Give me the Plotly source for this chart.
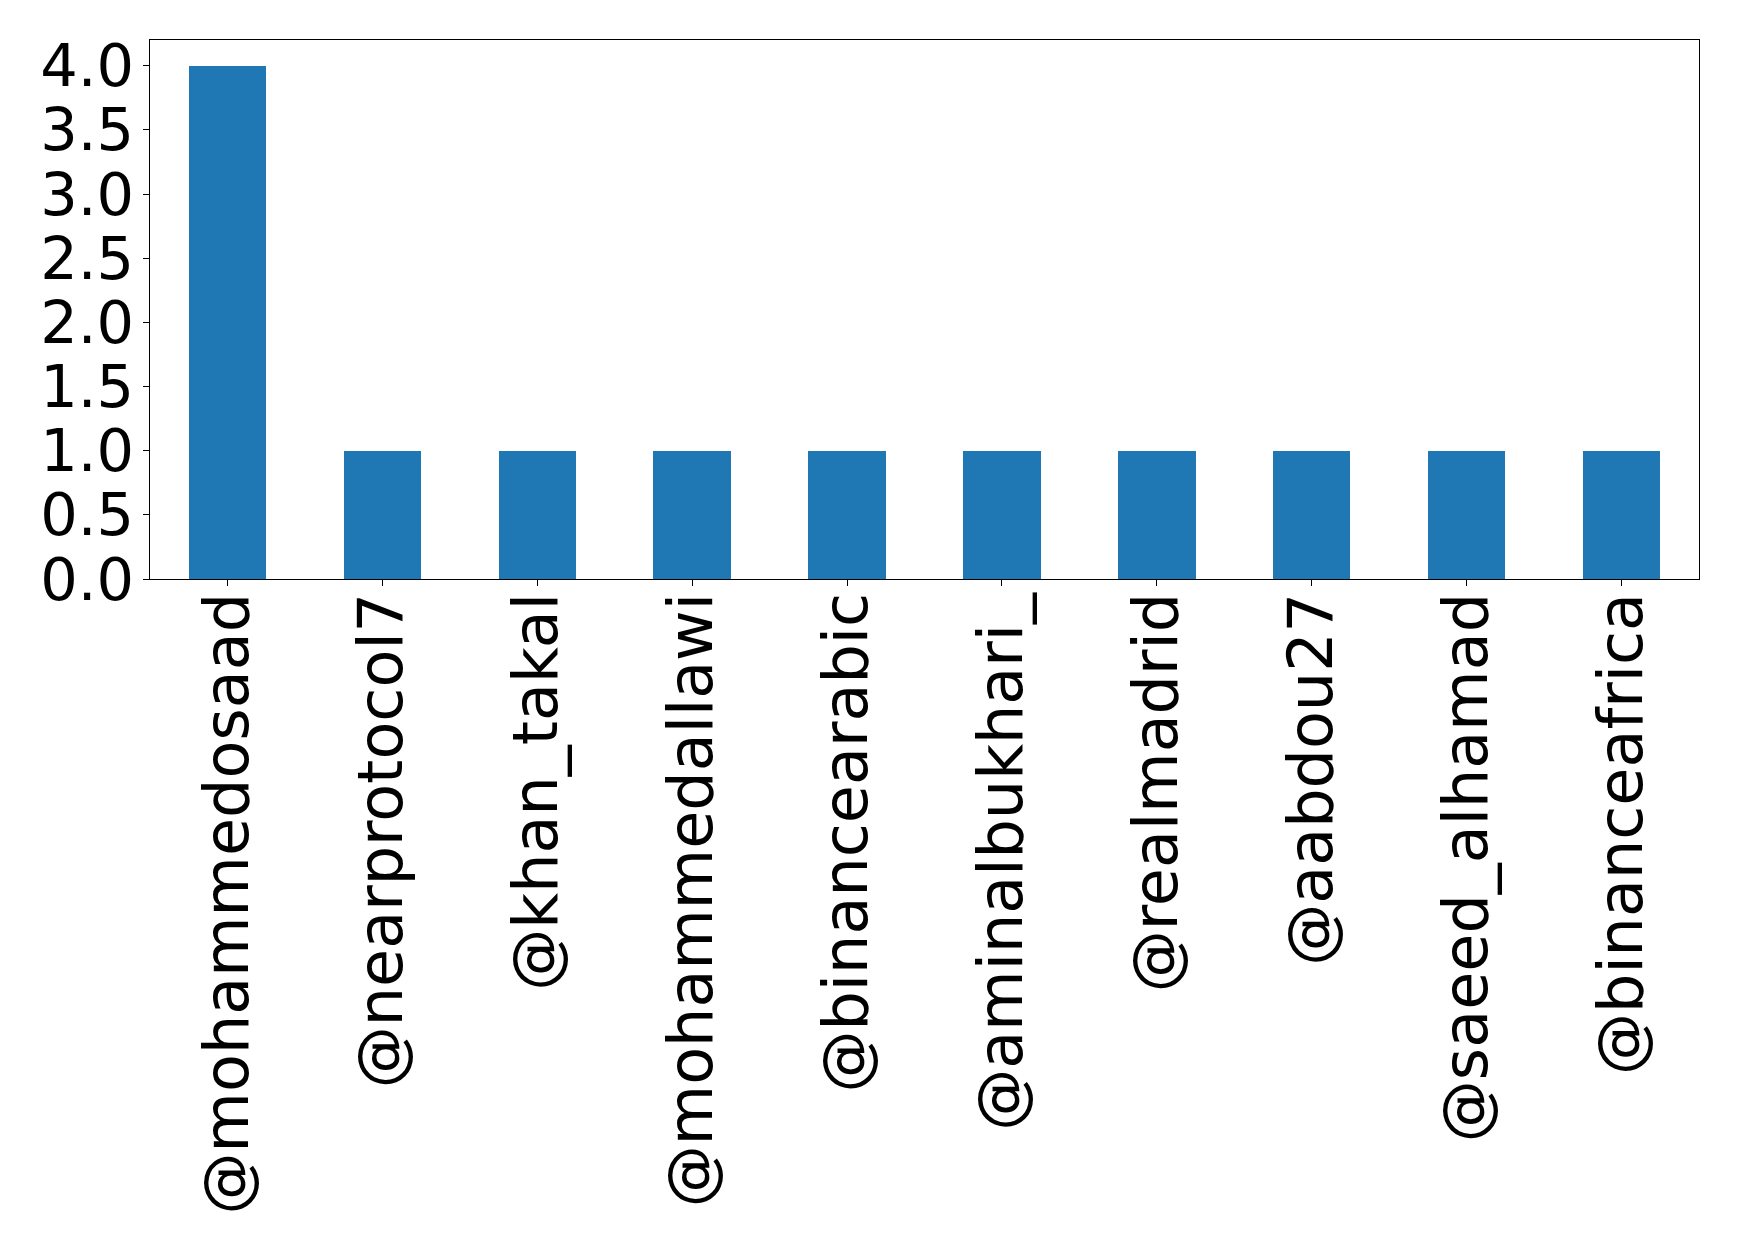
import plotly.graph_objects as go

# Mention counts per account
accounts = [
    "@mohammedosaad", "@nearprotocol7", "@khan_takal", "@mohammedallawi",
    "@binancearabic", "@aminalbukhari_", "@realmadrid", "@aabdou27",
    "@saeed_alhamad", "@binanceafrica",
]
counts = [4, 1, 1, 1, 1, 1, 1, 1, 1, 1]
y_ticks = [0.0, 0.5, 1.0, 1.5, 2.0, 2.5, 3.0, 3.5, 4.0]

fig = go.Figure(
    go.Bar(
        x=list(range(len(accounts))),
        y=counts,
        width=0.5,
        marker=dict(color="#1f77b4", line=dict(width=0)),
    )
)

axis_common = dict(
    showline=True,
    linecolor="black",
    linewidth=1.3,
    mirror=True,
    ticks="outside",
    tickcolor="black",
    tickwidth=1.2,
    ticklen=6,
    showgrid=False,
    zeroline=False,
)

fig.update_xaxes(
    range=[-0.5, len(accounts) - 0.5],
    tickmode="array",
    tickvals=list(range(len(accounts))),
    ticktext=accounts,
    tickangle=-90,
    ticklabelstandoff=-18,
    tickfont=dict(family="DejaVu Sans", size=62, color="black"),
    **axis_common,
)
fig.update_yaxes(
    range=[0, 4.2],
    tickmode="array",
    tickvals=y_ticks,
    ticktext=[f"{v:.1f}" for v in y_ticks],
    ticklabelstandoff=-3,
    tickfont=dict(family="DejaVu Sans", size=59, color="black"),
    **axis_common,
)

fig.update_layout(
    width=1739,
    height=1254,
    margin=dict(l=150, r=40, t=40, b=675, autoexpand=False),
    plot_bgcolor="white",
    paper_bgcolor="white",
    showlegend=False,
    bargap=0,
)

fig.write_html("out.html")
